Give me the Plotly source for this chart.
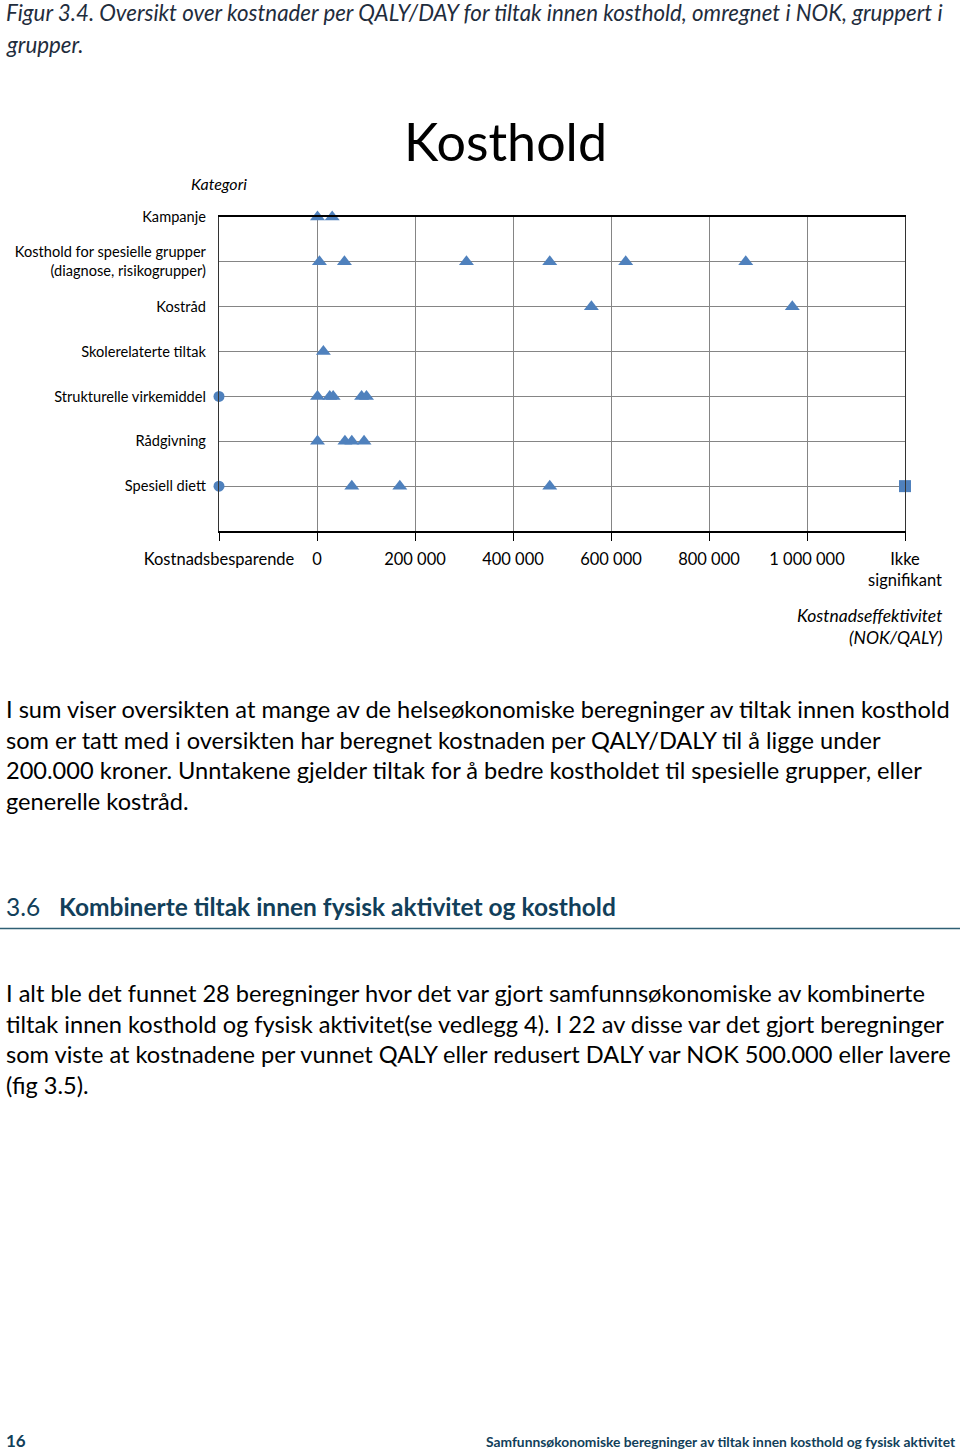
import plotly.graph_objects as go

# ---------------- data ----------------
categories = [
    "Kampanje",
    "Kosthold for spesielle grupper<br>(diagnose, risikogrupper)",
    "Kostråd",
    "Skolerelaterte tiltak",
    "Strukturelle virkemiddel",
    "Rådgivning",
    "Spesiell diett",
]
kampanje = [1000, 31000]
spesielle_grupper = [5000, 56000, 305000, 475000, 630000, 875000]
kostrad = [560000, 970000]
skolerelaterte = [13000]
strukturelle = ["Kostnadsbesparende", 1000, 26000, 33000, 91000, 101000]
radgivning = [1000, 57000, 71000, 96000]
spesiell_diett = ["Kostnadsbesparende", 71000, 169000, 475000, "Ikke signifikant"]
series = [kampanje, spesielle_grupper, kostrad, skolerelaterte,
          strukturelle, radgivning, spesiell_diett]

tick_values = [-200000, 0, 200000, 400000, 600000, 800000, 1000000, 1200000]
tick_labels = ["Kostnadsbesparende", "0", "200 000", "400 000", "600 000",
               "800 000", "1 000 000", "Ikke<br>signifikant"]

caption = ["Figur 3.4. Oversikt over kostnader per QALY/DAY for tiltak innen kosthold, omregnet i NOK, gruppert i",
           "grupper."]
para1 = ["I sum viser oversikten at mange av de helseøkonomiske beregninger av tiltak innen kosthold",
         "som er tatt med i oversikten har beregnet kostnaden per QALY/DALY til å ligge under",
         "200.000 kroner. Unntakene gjelder tiltak for å bedre kostholdet til spesielle grupper, eller",
         "generelle kostråd."]
para2 = ["I alt ble det funnet 28 beregninger hvor det var gjort samfunnsøkonomiske av kombinerte",
         "tiltak innen kosthold og fysisk aktivitet(se vedlegg 4). I 22 av disse var det gjort beregninger",
         "som viste at kostnadene per vunnet QALY eller redusert DALY var NOK 500.000 eller lavere",
         "(fig 3.5)."]

# ---------------- build points ----------------
special_pos = {"Kostnadsbesparende": tick_values[0], "Ikke signifikant": tick_values[-1]}
n = len(categories)
pts = {"triangle-up": ([], []), "circle": ([], []), "square": ([], [])}
for i, vals in enumerate(series):
    yv = n - i
    for v in vals:
        if v == "Kostnadsbesparende":
            sym = "circle"
        elif v == "Ikke signifikant":
            sym = "square"
        else:
            sym = "triangle-up"
        pts[sym][0].append(special_pos.get(v, v))
        pts[sym][1].append(yv)

BLUE = "#4F81BD"
sizes = {"triangle-up": 13, "circle": 11, "square": 12}
fig = go.Figure()
for sym, (xs, ys) in pts.items():
    fig.add_trace(go.Scatter(x=xs, y=ys, mode="markers", cliponaxis=False,
                             marker=dict(symbol=sym, size=sizes[sym], color=BLUE,
                                         line=dict(width=0)),
                             showlegend=False, hoverinfo="x+y"))

L, R, T, B = 219, 905, 217, 531
W, H = 960, 1451
FONT = "Lato"


def ax(px):
    return (px - L) / (R - L)


def ay(py):
    return (B - py) / (B - T)


annotations = []


def text(s, px, py, size, anchor="left", color="#000", italic=False, bold=False, family=FONT):
    if bold:
        s = "<b>" + s + "</b>"
    if italic:
        s = "<i>" + s + "</i>"
    annotations.append(dict(text=s, x=ax(px), y=ay(py), xref="paper", yref="paper",
                            xanchor=anchor, yanchor="middle", showarrow=False,
                            align=anchor if anchor != "center" else "center",
                            font=dict(family=family, size=size, color=color)))


CAP = "#1F2D3D"
text(caption[0], 4, 12, 22.3, italic=True, color=CAP)
text(caption[1], 4, 44, 22.3, italic=True, color=CAP)
text("Kosthold", 505, 141, 52, anchor="center")
text("Kategori", 219, 184, 16, anchor="center", italic=True)
text("Kostnadseffektivitet", 944, 615, 17.5, anchor="right", italic=True)
text("(NOK/QALY)", 944, 637, 17.5, anchor="right", italic=True)

for k, line in enumerate(para1):
    text(line, 4, 709 + k * 30.7, 23.6)
for k, line in enumerate(para2):
    text(line, 4, 993 + k * 30.7, 23.6)

HEAD = "#123F5A"
text("3.6", 4, 906, 24.5, color=HEAD)
text("Kombinerte tiltak innen fysisk aktivitet og kosthold", 57, 906, 24.5, color=HEAD, bold=True)
text("16", 4, 1440, 17, color=HEAD, bold=True)
text("Samfunnsøkonomiske beregninger av tiltak innen kosthold og fysisk aktivitet", 958, 1441, 13.8,
     anchor="right", color=HEAD, bold=True)

shapes = [dict(type="line", xref="paper", yref="paper", x0=ax(0), x1=ax(960),
               y0=ay(928.5), y1=ay(928.5), line=dict(color="#2F5F74", width=1.3))]

fig.update_layout(
    width=W, height=H,
    margin=dict(l=L, r=W - R, t=T, b=H - B, pad=0),
    paper_bgcolor="white", plot_bgcolor="white",
    annotations=annotations, shapes=shapes,
    xaxis=dict(range=[tick_values[0], tick_values[-1]], tickvals=tick_values, ticktext=tick_labels,
               showgrid=True, gridcolor="#858585", gridwidth=1, zeroline=False,
               showline=True, linecolor="#000", linewidth=1.5, mirror=True,
               ticks="outside", ticklen=8, tickcolor="#000", tickwidth=1.3,
               ticklabelstandoff=4,
               tickfont=dict(family=FONT, size=16.5, color="#000")),
    yaxis=dict(range=[0, n], tickvals=[n - i for i in range(n)], ticktext=categories,
               showgrid=True, gridcolor="#858585", gridwidth=1, zeroline=False,
               showline=True, linecolor="#333", linewidth=1.3, mirror=True,
               ticks="", ticklabelstandoff=9,
               tickfont=dict(family=FONT, size=14.6, color="#000")),
)

fig.write_html("out.html")
